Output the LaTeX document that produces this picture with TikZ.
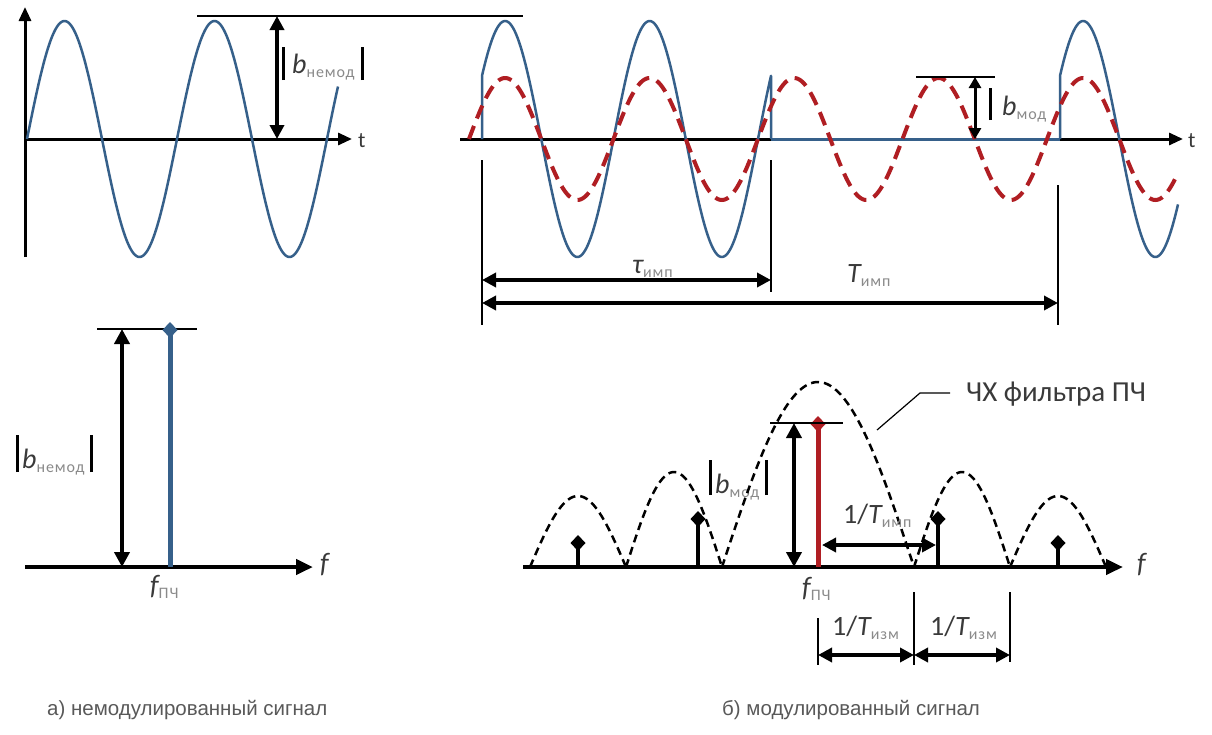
\documentclass[tikz,border=0pt]{standalone}
\usepackage{fontspec}
\setmainfont{Carlito}
\newfontfamily\capfont{Liberation Sans}
\usetikzlibrary{arrows.meta}
\definecolor{sigblue}{HTML}{36608A}
\definecolor{sigred}{HTML}{B01E23}
\definecolor{txtgray}{HTML}{3A3A3A}
\definecolor{subgray}{HTML}{8A8A8A}
\definecolor{capgray}{HTML}{595959}
\newcommand\mybar[2]{\textcolor{black}{\rule[-#1]{3pt}{#2}}}
\newcommand\symb[1]{\textcolor{txtgray}{\itshape #1}}
\newcommand\subt[1]{\raisebox{-4pt}{\fontsize{16}{16}\selectfont\addfontfeature{LetterSpace=6}\textcolor{subgray}{#1}}}
\begin{document}
\begin{tikzpicture}[x=1pt,y=-1pt,
  axisline/.style={line width=3pt,-{Triangle[length=14pt,width=12pt]}},
  faxis/.style={line width=4.5pt,-{Triangle[length=17pt,width=15pt]}},
  dimline/.style={line width=1.5pt},
  refline/.style={line width=1.3pt},
  dbl/.style={line width=3.5pt,{Triangle[length=14pt,width=14pt]}-{Triangle[length=14pt,width=14pt]}},
  dblsmall/.style={line width=3pt,{Triangle[length=11pt,width=12pt]}-{Triangle[length=11pt,width=12pt]}},
  dblthick/.style={line width=4pt,{Triangle[length=15pt,width=15pt]}-{Triangle[length=15pt,width=15pt]}},
  sigline/.style={sigblue,line width=2.5pt,line join=round},
  modline/.style={sigred,line width=4pt,dash pattern=on 14pt off 8pt},
  lobeline/.style={black,line width=2.5pt,dash pattern=on 8pt off 5pt},
  stemline/.style={line width=4pt,-{Diamond[length=16pt,width=15pt]}},
  lbl/.style={inner sep=0pt,anchor=base west,font=\fontsize{28}{30}\selectfont},
  axlbl/.style={inner sep=0pt,anchor=base west,text=txtgray,font=\fontsize{22}{24}\selectfont},
  captext/.style={inner sep=0pt,anchor=base west,font=\capfont\fontsize{20.5}{24}\selectfont,text=capgray}
]
\useasboundingbox (0,0) rectangle (1212,734);
\fill[white] (0,0) rectangle (1212,734);

% ---------- top left: unmodulated signal ----------
\coordinate (yA0) at (25,257);
\coordinate (yA1) at (25,7);
\coordinate (xA0) at (25,139);
\coordinate (xA1) at (352,139);
\draw[axisline] (yA0) -- (yA1);
\draw[axisline] (xA0) -- (xA1);
\node[axlbl] (t1) at (358,147) {t};
\draw[sigline] plot[domain=27:338,samples=220] (\x,{139-118*sin(2.4*(\x-27))});
\coordinate (r1a) at (197,16);
\coordinate (r1b) at (523,16);
\draw[refline] (r1a) -- (r1b);
\coordinate (u1a) at (277,16);
\coordinate (u1b) at (277,139);
\draw[dbl] (u1a) -- (u1b);
\node[lbl] (bnem1) at (282,73) {\mybar{7pt}{33pt}\hspace{7pt}\symb{b}\subt{немод}\hspace{6pt}\mybar{7pt}{33pt}};

% ---------- top right: modulated signal ----------
\coordinate (xB0) at (460,139);
\coordinate (xB1) at (1183,139);
\draw[axisline] (xB0) -- (xB1);
\node[axlbl] (t2) at (1188,147) {t};
\coordinate (z0) at (771,139);
\coordinate (z1) at (1060,139);
\draw[sigblue,line width=3pt] (z0) -- (z1);
\draw[sigline] (482,139) -- plot[domain=482:771,samples=220] (\x,{139-118*sin(2.4913*(\x-469))}) -- (z0);
\draw[sigline] (z1) -- plot[domain=1060:1178,samples=100] (\x,{139-118*sin(2.4913*(\x-469))});
\draw[modline] plot[domain=469:1178,samples=500] (\x,{139-61*sin(2.4913*(\x-469))});
\coordinate (r2a) at (916,77);
\coordinate (r2b) at (995,77);
\draw[refline] (r2a) -- (r2b);
\coordinate (u2a) at (975,77);
\coordinate (u2b) at (975,139);
\draw[dblsmall] (u2a) -- (u2b);
\node[lbl] (bmod1) at (989,115) {\mybar{5pt}{32pt}\hspace{10pt}\symb{b}\subt{мод}};
% dimension lines
\coordinate (d1a) at (482,160); \coordinate (d1b) at (482,325);
\coordinate (d2a) at (771,160); \coordinate (d2b) at (771,292);
\coordinate (d3a) at (1058,185); \coordinate (d3b) at (1058,325);
\draw[dimline] (d1a) -- (d1b);
\draw[dimline] (d2a) -- (d2b);
\draw[dimline] (d3a) -- (d3b);
\coordinate (tau0) at (482,280); \coordinate (tau1) at (771,280);
\coordinate (T0) at (482,303); \coordinate (T1) at (1058,303);
\draw[dbl] (tau0) -- (tau1);
\draw[dbl] (T0) -- (T1);
\node[lbl] (taulbl) at (632,273) {\symb{τ}\subt{имп}};
\node[lbl] (Tlbl) at (847,282) {\symb{T}\subt{имп}};

% ---------- bottom left: spectrum of unmodulated signal ----------
\coordinate (fA0) at (25,567);
\coordinate (fA1) at (313,567);
\draw[faxis] (fA0) -- (fA1);
\node[lbl,text=txtgray] (f1) at (320,572) {\itshape f};
\coordinate (r3a) at (97,329);
\coordinate (r3b) at (197,329);
\draw[refline] (r3a) -- (r3b);
\coordinate (u3a) at (122,329);
\coordinate (u3b) at (122,567);
\draw[dblthick] (u3a) -- (u3b);
\coordinate (s0a) at (170,567);
\coordinate (s0b) at (170,322);
\draw[stemline,sigblue,line width=5pt] (s0a) -- (s0b);
\node[lbl] (bnem2) at (16,468) {\mybar{4pt}{37pt}\hspace{3pt}\symb{b}\subt{немод}\hspace{5pt}\mybar{4pt}{37pt}};
\node[lbl] (fpch1) at (150,594) {\symb{f}\subt{ПЧ}};

% ---------- bottom right: spectrum of modulated signal ----------
\node[lbl] (bmod2) at (709,493) {\mybar{2pt}{35pt}\hspace{3pt}\symb{b}\subt{мод}\hspace{6pt}\mybar{2pt}{35pt}};
\draw[lobeline] plot[domain=530:626,samples=60] (\x,{567-71*sin(1.875*(\x-530))});
\draw[lobeline] plot[domain=626:722,samples=60] (\x,{567-95*sin(1.875*(\x-626))});
\draw[lobeline] plot[domain=722:914,samples=120] (\x,{567-185*sin(0.9375*(\x-722))});
\draw[lobeline] plot[domain=914:1010,samples=60] (\x,{567-95*sin(1.875*(\x-914))});
\draw[lobeline] plot[domain=1010:1106,samples=60] (\x,{567-71*sin(1.875*(\x-1010))});
\coordinate (fB0) at (523,567);
\coordinate (fB1) at (1123,567);
\draw[faxis] (fB0) -- (fB1);
\node[lbl,text=txtgray] (f2) at (1137,572) {\itshape f};
\foreach \sx/\sy [count=\i] in {578/535,698/511,938/511,1058/535}{
  \coordinate (sb\i) at (\sx,567);
  \coordinate (st\i) at (\sx,\sy);
  \draw[stemline] (sb\i) -- (st\i);
}
\coordinate (rsb) at (818,567);
\coordinate (rst) at (818,416);
\draw[stemline,sigred,line width=5pt] (rsb) -- (rst);
\coordinate (r4a) at (770,423);
\coordinate (r4b) at (843,423);
\draw[refline] (r4a) -- (r4b);
\coordinate (u4a) at (794,423);
\coordinate (u4b) at (794,567);
\draw[dblthick] (u4a) -- (u4b);
\coordinate (i0) at (822,545);
\coordinate (i1) at (936,545);
\draw[dbl] (i0) -- (i1);
\node[lbl] (timp) at (843,523) {\textcolor{txtgray}{1/}\symb{T}\subt{имп}};
\node[lbl] (fpch2) at (802,596) {\symb{f}\subt{ПЧ}};
% lower dimensions
\coordinate (e1a) at (818,618); \coordinate (e1b) at (818,665);
\coordinate (e2a) at (914,592); \coordinate (e2b) at (914,665);
\coordinate (e3a) at (1010,592); \coordinate (e3b) at (1010,662);
\draw[dimline] (e1a) -- (e1b);
\draw[dimline] (e2a) -- (e2b);
\draw[dimline] (e3a) -- (e3b);
\coordinate (m0) at (818,655); \coordinate (m1) at (914,655); \coordinate (m2) at (1010,655);
\draw[dbl] (m0) -- (m1);
\draw[dbl] (m1) -- (m2);
\node[lbl] (tizm1) at (832,635) {\textcolor{txtgray}{1/}\symb{T}\subt{изм}};
\node[lbl] (tizm2) at (930,635) {\textcolor{txtgray}{1/}\symb{T}\subt{изм}};
% filter label
\node[inner sep=0pt,anchor=west,text=txtgray,font=\fontsize{29}{31}\selectfont] (chx) at (966,394) {ЧХ фильтра ПЧ};
\coordinate (ld0) at (877,430);
\coordinate (ld1) at (920,393);
\coordinate (ld2) at (950,393);
\draw[line width=1.2pt] (ld0) -- (ld1) -- (ld2);

% ---------- captions ----------
\node[captext] (capa) at (47,715) {а) немодулированный сигнал};
\node[captext] (capb) at (722,715) {б) модулированный сигнал};
\end{tikzpicture}
\end{document}
